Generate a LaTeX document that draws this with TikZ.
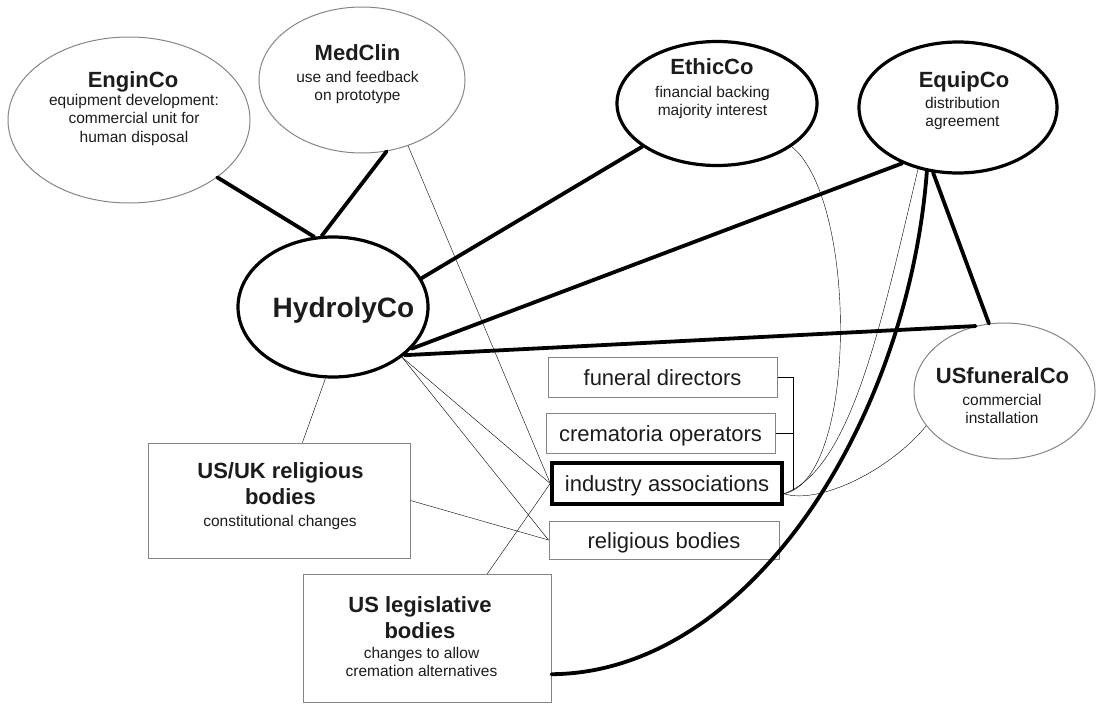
\documentclass[tikz,border=0pt]{standalone}
\usepackage{fontspec}
\setmainfont{Liberation Sans}
\usetikzlibrary{shapes.geometric}
\definecolor{txt}{HTML}{1C1C1C}
\definecolor{thin}{HTML}{858585}
\newcommand\ttlf{\bfseries\fontsize{22}{26.5}\selectfont}
\newcommand\bigf{\bfseries\fontsize{28}{32}\selectfont}
\newcommand\subf{\mdseries\fontsize{15.5}{18.5}\selectfont}
\newcommand\boxf{\mdseries\fontsize{22}{26}\selectfont}
\begin{document}
\begin{tikzpicture}[x=1pt,y=-1pt,
  ethick/.style={ellipse, inner sep=0pt, draw=black, line width=3.2pt},
  ethin/.style={ellipse, inner sep=0pt, draw=thin, line width=1pt},
  bx/.style={rectangle, draw=thin, line width=1pt, inner sep=0pt, text=txt, font=\boxf, text height=16pt, text depth=0pt},
  ttl/.style={inner sep=0pt, anchor=base, text=txt, font=\ttlf},
  ttl2/.style={inner sep=0pt, anchor=north, align=center, text=txt, font=\ttlf},
  sub/.style={inner sep=0pt, anchor=north, align=center, text=txt, font=\subf},
  strong/.style={line width=3.8pt, black, line cap=round},
  weak/.style={line width=0.9pt, thin}
]
\useasboundingbox (0,0) rectangle (1096,704);
% ellipses
\node[ethin, minimum width=242pt, minimum height=166pt] (engin) at (129,120) {};
\node[ethin, minimum width=206pt, minimum height=146pt] (medclin) at (362,80) {};
\node[ethick, minimum width=200pt, minimum height=124pt] (ethic) at (717,103.5) {};
\node[ethick, minimum width=198pt, minimum height=131pt] (equip) at (958,107.5) {};
\node[ethin, minimum width=181pt, minimum height=136pt] (usfun) at (1004.5,391) {};
\node[ethick, minimum width=190pt, minimum height=140pt] (hydro) at (333,307) {};
% labels
\node[ttl] (enginT) at (133,87) {EnginCo};
\node[sub] (enginS) at (134,93.7) {equipment development:\\commercial unit for\\human disposal};
\node[ttl] (medT) at (357.5,60) {MedClin};
\node[sub] (medS) at (357.5,70.7) {use and feedback\\on prototype};
\node[ttl] (ethicT) at (712,74) {EthicCo};
\node[sub] (ethicS) at (712.5,85.7) {financial backing\\majority interest};
\node[ttl] (equipT) at (964,87) {EquipCo};
\node[sub] (equipS) at (962.5,96.7) {distribution\\agreement};
\node[ttl] (usfunT) at (1002.5,383) {USfuneralCo};
\node[sub] (usfunS) at (1002,393.7) {commercial\\installation};
\node[inner sep=0pt, anchor=base, text=txt, font=\bigf] (hydroT) at (343.5,317) {HydrolyCo};
% boxes
\node[bx, minimum width=229pt, minimum height=40pt] (fd) at (662.5,377) {funeral directors};
\node[bx, minimum width=229pt, minimum height=40pt] (co) at (660.5,433) {crematoria operators};
\node[bx, draw=black, line width=3.5pt, minimum width=230pt, minimum height=41pt] (ia) at (667,483.5) {industry associations};
\node[bx, minimum width=230pt, minimum height=38pt] (rb) at (664,540) {religious bodies};
\node[bx, minimum width=262pt, minimum height=115pt] (usuk) at (279,500.5) {};
\node[ttl2] (usukT) at (280.5,462) {US/UK religious\\bodies};
\node[sub] (usukS) at (280,514.7) {constitutional changes};
\node[bx, minimum width=248pt, minimum height=128pt] (usleg) at (427,638.5) {};
\node[ttl2, font=\bfseries\fontsize{22}{26}\selectfont] (uslegT) at (420,596) {US legislative\\bodies};
\node[sub] (uslegS) at (421.5,646.7) {changes to allow\\cremation alternatives};
% thick connectors
\draw[strong] (engin.-33) -- (hydro.105);
\draw[strong] (medclin.-71) -- (hydro.99);
\draw[strong] (ethic.210) -- (hydro.18);
\draw[strong] (equip.-135) -- (hydro.-28);
\draw[strong] (hydro.-34) -- (usfun.114);
\draw[strong] (equip.-111) -- (usfun.103);
\draw[strong] (equip.-116) .. controls (908,420) and (750,673) .. (usleg.-16);
% thin connectors
\draw[weak] (medclin.-55) -- (ia.west);
\draw[weak] (hydro.-36) -- (ia.west);
\draw[weak] (hydro.-36) -- (rb.west);
\draw[weak] (hydro.-96) -- (usuk.68);
\draw[weak] (usuk.east) -- (rb.west);
\draw[weak] (usleg.47) -- (ia.west);
\draw[weak] (ethic.-30) .. controls (858,200) and (858,480) .. (ia.-5);
\draw[weak] (equip.-123) .. controls (880,330) and (850,470) .. (ia.-5);
\draw[weak] (usfun.-156) .. controls (890,470) and (820,505) .. (ia.-5);
\coordinate (brk) at (793,490);
\draw[weak] (fd.east) -| (brk);
\draw[weak] (co.east) -- (co.east -| brk);
\end{tikzpicture}
\end{document}
